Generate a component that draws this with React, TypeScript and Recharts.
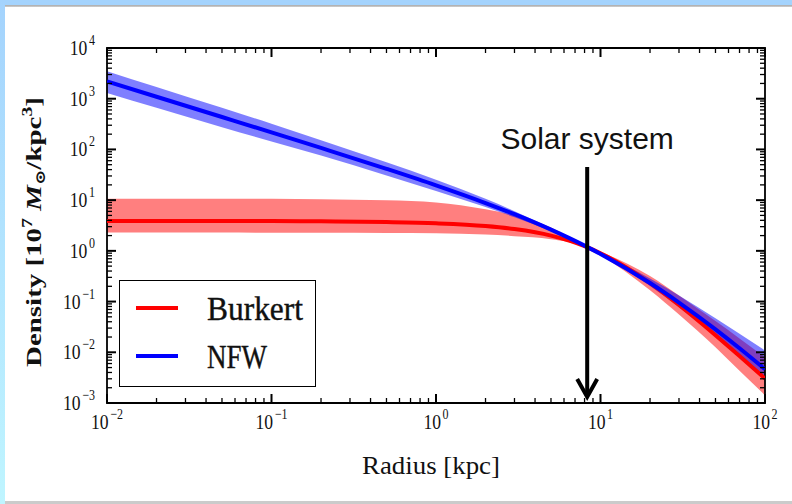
import React from "react";
import {
  ComposedChart,
  Area,
  Line,
  XAxis,
  YAxis,
  ReferenceLine,
  ReferenceArea,
  Legend,
} from "recharts";

// ---------------------------------------------------------------------------
// Data
// ---------------------------------------------------------------------------

const RADIUS = [0.01, 0.02, 0.05, 0.1, 0.2, 0.5, 1, 2, 3, 5, 8, 10, 20, 30, 50, 70, 100];

const BURKERT = [3.9, 3.9, 3.89, 3.86, 3.82, 3.69, 3.49, 3.09, 2.69, 2.0, 1.24, 0.9, 0.231, 0.0855, 0.0217, 0.00843, 0.00303];
const BURKERT_LOW = [2.3, 2.3, 2.29, 2.28, 2.27, 2.25, 2.22, 2.1, 1.95, 1.7, 1.21, 0.82, 0.167, 0.0553, 0.0125, 0.00431, 0.00142];
const BURKERT_HIGH = [10.7, 10.7, 10.7, 10.6, 10.4, 9.9, 9.0, 6.6, 5.0, 2.9, 1.27, 0.96, 0.319, 0.132, 0.0413, 0.0188, 0.00796];

const NFW = [2190, 1094, 436, 217, 107, 41.4, 19.6, 8.78, 5.28, 2.62, 1.27, 0.87, 0.232, 0.0956, 0.0283, 0.012, 0.00463];
const NFW_LOW = [1290, 660, 275, 143, 75.9, 30.7, 15.2, 7.3, 4.6, 2.44, 1.25, 0.831, 0.202, 0.0777, 0.0205, 0.0079, 0.00279];
const NFW_HIGH = [3470, 1695, 660, 321, 151, 55.8, 25.2, 10.6, 6.06, 2.81, 1.28, 0.912, 0.285, 0.132, 0.047, 0.0233, 0.01085];

const SOLAR_RADIUS = 8.3;
const ARROW_TOP = 45;
const ARROW_TIP = 0.00126;

// axis ticks
const X_MAJOR = [0.01, 0.1, 1, 10, 100];
const X_EXP = ["\u22122", "\u22121", "0", "1", "2"];
const Y_MAJOR = [0.001, 0.01, 0.1, 1, 10, 100, 1000, 10000];
const Y_EXP = ["\u22123", "\u22122", "\u22121", "0", "1", "2", "3", "4"];
const MINOR_STEPS = [2, 3, 4, 5, 6, 7, 8, 9];

// ---------------------------------------------------------------------------
// Layout
// ---------------------------------------------------------------------------

const W = 792;
const H = 504;
const PLOT_L = 107;
const PLOT_R = 765;
const PLOT_T = 48;
const PLOT_B = 403;
const SERIF = '"Liberation Serif", "DejaVu Serif", serif';
const SANS = '"Liberation Sans", Arial, sans-serif';
const INK = "#111";
const SQUEEZE = 0.8; // tick labels are narrower than Times
const EXP_GAP = 24;

function withMinors(majors: number[]): number[] {
  const out: number[] = [];
  majors.forEach((m, i) => {
    out.push(m);
    if (i < majors.length - 1) {
      MINOR_STEPS.forEach((s) => out.push(Number((s * m).toPrecision(3))));
    }
  });
  return out;
}

const X_TICKS = withMinors(X_MAJOR);
const Y_TICKS = withMinors(Y_MAJOR);

const rows = RADIUS.map((r, i) => ({
  r,
  burkert: BURKERT[i],
  burkertBand: [BURKERT_LOW[i], BURKERT_HIGH[i]],
  nfw: NFW[i],
  nfwBand: [NFW_LOW[i], NFW_HIGH[i]],
}));

// width in screen px of "10^exp"
function labelWidth(exp: string): number {
  const expW = exp.startsWith("\u2212") ? 16 : 7.5;
  return (EXP_GAP + expW) * SQUEEZE;
}

function PowerLabel({ x, y, exp }: { x: number; y: number; exp: string }) {
  return (
    <g transform={`translate(${x},${y}) scale(${SQUEEZE},1)`} fill={INK} fontFamily={SERIF}>
      <text x={0} y={0} fontSize={22}>
        10
      </text>
      <text x={EXP_GAP} y={-10} fontSize={15}>
        {exp}
      </text>
    </g>
  );
}

// ---------------------------------------------------------------------------
// Ticks (drawn inward on all four sides)
// ---------------------------------------------------------------------------

function XTick(props: any) {
  const { x, payload } = props;
  const v = payload.value;
  const idx = X_MAJOR.indexOf(v);
  const major = idx >= 0;
  const len = major ? 9 : 5;
  const sw = major ? 2 : 1.3;
  let label = null;
  if (major) {
    const exp = X_EXP[idx];
    label = <PowerLabel x={x - labelWidth(exp) / 2} y={429} exp={exp} />;
  }
  return (
    <g>
      <line x1={x} x2={x} y1={PLOT_B} y2={PLOT_B - len} stroke="#000" strokeWidth={sw} />
      <line x1={x} x2={x} y1={PLOT_T} y2={PLOT_T + len} stroke="#000" strokeWidth={sw} />
      {label}
    </g>
  );
}

function YTick(props: any) {
  const { y, payload } = props;
  const v = payload.value;
  const idx = Y_MAJOR.indexOf(v);
  const major = idx >= 0;
  const len = major ? 9 : 5;
  const sw = major ? 2 : 1.3;
  let label = null;
  if (major) {
    const exp = Y_EXP[idx];
    label = <PowerLabel x={95 - labelWidth(exp)} y={y + 7} exp={exp} />;
  }
  return (
    <g>
      <line x1={PLOT_L} x2={PLOT_L + len} y1={y} y2={y} stroke="#000" strokeWidth={sw} />
      <line x1={PLOT_R} x2={PLOT_R - len} y1={y} y2={y} stroke="#000" strokeWidth={sw} />
      {label}
    </g>
  );
}

// ---------------------------------------------------------------------------
// Axis titles, legend, annotation
// ---------------------------------------------------------------------------

function XTitle(props: any) {
  const vb = props.viewBox || { x: PLOT_L, y: PLOT_B, width: PLOT_R - PLOT_L };
  return (
    <text
      x={vb.x + vb.width / 2 - 5}
      y={474}
      textAnchor="middle"
      fontFamily={SERIF}
      fontSize={25}
      fill={INK}
      textLength={138}
      lengthAdjust="spacingAndGlyphs"
    >
      Radius [kpc]
    </text>
  );
}

function YTitle() {
  const cx = 41;
  const cy = 232;
  return (
    <text
      transform={`translate(${cx},${cy}) rotate(-90)`}
      textAnchor="middle"
      fontFamily={SERIF}
      fontSize={22}
      fontWeight="bold"
      fill={INK}
      textLength={270}
      lengthAdjust="spacingAndGlyphs"
    >
      <tspan>Density [10</tspan>
      <tspan fontSize={15} dy={-9}>7</tspan>
      <tspan dy={9}> </tspan>
      <tspan fontStyle="italic">M</tspan>
      <tspan fontSize={14} dy={4}>{"\u2299"}</tspan>
      <tspan dy={-4}>/kpc</tspan>
      <tspan fontSize={15} dy={-9}>3</tspan>
      <tspan dy={9}>]</tspan>
    </text>
  );
}

function LegendBox(props: any) {
  const items = (props.payload || []) as any[];
  const widths: Record<string, number> = { Burkert: 96, NFW: 60 };
  return (
    <div
      style={{
        width: 197,
        height: 107,
        border: "1.6px solid #000",
        boxSizing: "border-box",
        background: "#fff",
      }}
    >
      <svg width={194} height={104} style={{ display: "block" }}>
        {items.map((it, i) => (
          <g key={it.value}>
            <line
              x1={16}
              x2={58}
              y1={27 + i * 48}
              y2={27 + i * 48}
              stroke={it.color}
              strokeWidth={4}
            />
            <text
              x={87}
              y={39 + i * 48}
              fontFamily={SERIF}
              fontSize={34}
              fill={INK}
              stroke={INK}
              strokeWidth={0.4}
              textLength={widths[it.value] || 80}
              lengthAdjust="spacingAndGlyphs"
            >
              {it.value}
            </text>
          </g>
        ))}
      </svg>
    </div>
  );
}

function SolarArrow(props: any) {
  const { x1, y1, y2 } = props;
  return (
    <g>
      <text x={x1} y={y1 - 18} textAnchor="middle" fontFamily={SANS} fontSize={30} fill={INK}>
        Solar system
      </text>
      <line x1={x1} x2={x1} y1={y1} y2={y2 - 2} stroke="#000" strokeWidth={4} />
      <polyline
        points={`${x1 - 10},${y2 - 19} ${x1},${y2 - 1} ${x1 + 10},${y2 - 19}`}
        fill="none"
        stroke="#000"
        strokeWidth={4}
      />
    </g>
  );
}

// ---------------------------------------------------------------------------
// Component
// ---------------------------------------------------------------------------

export default function App() {
  return (
    <div style={{ position: "fixed", left: 0, top: 0, width: W, height: H, background: "#fff", overflow: "hidden" }}>
      {/* slide frame */}
      <div style={{ position: "absolute", left: 0, top: 0, width: W, height: 5, background: "#a4d3fd" }} />
      <div style={{ position: "absolute", left: 5, top: 5, width: W - 5, height: 2, background: "linear-gradient(#a9a9a9, #d0d0d0)" }} />
      <div style={{ position: "absolute", left: 0, top: 0, width: 5, height: H, background: "linear-gradient(#a4d3fd, #bff5ff)" }} />
      <div style={{ position: "absolute", left: 5, top: 501, width: W - 5, height: 3, background: "#cbcbcb" }} />

      <div style={{ position: "absolute", left: 0, top: 0 }}>
        <ComposedChart
          width={W}
          height={H}
          data={rows}
          margin={{ top: PLOT_T, right: W - PLOT_R, bottom: 71, left: 47 }}
        >
          <XAxis
            dataKey="r"
            type="number"
            scale="log"
            domain={[0.01, 100]}
            allowDataOverflow
            ticks={X_TICKS}
            interval={0}
            tick={<XTick />}
            tickLine={false}
            axisLine={false}
            height={30}
            label={<XTitle />}
          />
          <YAxis
            type="number"
            scale="log"
            domain={[0.001, 10000]}
            allowDataOverflow
            ticks={Y_TICKS}
            interval={0}
            tick={<YTick />}
            tickLine={false}
            axisLine={false}
            width={60}
            label={<YTitle />}
          />
          <Area
            dataKey="burkertBand"
            type="monotone"
            fill="#ff0000"
            fillOpacity={0.5}
            stroke="none"
            legendType="none"
            isAnimationActive={false}
            activeDot={false}
          />
          <Area
            dataKey="nfwBand"
            type="monotone"
            fill="#0000ff"
            fillOpacity={0.5}
            stroke="none"
            legendType="none"
            isAnimationActive={false}
            activeDot={false}
          />
          <Line
            dataKey="burkert"
            name="Burkert"
            type="monotone"
            stroke="#ff0000"
            strokeWidth={4}
            dot={false}
            activeDot={false}
            isAnimationActive={false}
          />
          <Line
            dataKey="nfw"
            name="NFW"
            type="monotone"
            stroke="#0000ff"
            strokeWidth={4}
            dot={false}
            activeDot={false}
            isAnimationActive={false}
          />
          <ReferenceArea
            x1={0.01}
            x2={100}
            y1={0.001}
            y2={10000}
            fill="none"
            stroke="#000"
            strokeWidth={1.8}
            ifOverflow="visible"
          />
          <ReferenceLine
            segment={[
              { x: SOLAR_RADIUS, y: ARROW_TOP },
              { x: SOLAR_RADIUS, y: ARROW_TIP },
            ]}
            ifOverflow="visible"
            shape={(p: any) => <SolarArrow {...p} />}
          />
          <Legend
            layout="horizontal"
            verticalAlign="middle"
            align="center"
            content={<LegendBox />}
            wrapperStyle={{ position: "absolute", left: 119, top: 280, right: "auto", bottom: "auto", width: 197, height: 107 }}
          />
        </ComposedChart>
      </div>
    </div>
  );
}
